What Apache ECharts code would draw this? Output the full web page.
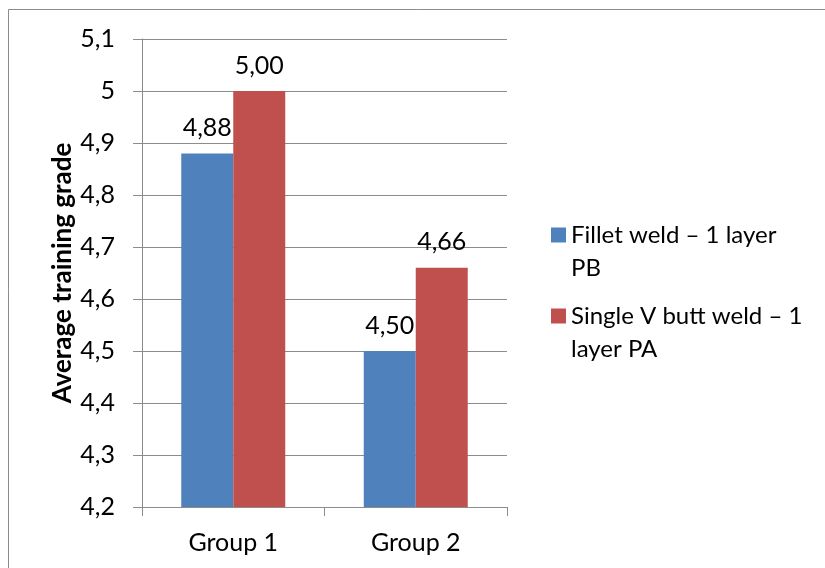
<!DOCTYPE html>
<html>
<head>
<meta charset="utf-8">
<script src="https://cdn.jsdelivr.net/npm/echarts@6/dist/echarts.min.js"></script>
<style>html,body{margin:0;padding:0;background:#fff;}#c{width:825px;height:568px;}</style>
</head>
<body>
<div id="c"></div>
<script>
const categories = ['Group 1', 'Group 2'];
const seriesNames = ['Fillet weld – 1 layer PB', 'Single V butt weld – 1 layer PA'];
const legendLines = {
  'Fillet weld – 1 layer PB': ['Fillet weld – 1 layer', 'PB'],
  'Single V butt weld – 1 layer PA': ['Single V butt weld – 1', 'layer PA']
};
const filletValues = [4.88, 4.50];
const buttValues = [5.00, 4.66];
const yTicks = { min: 4.2, max: 5.1, interval: 0.1 };
const yAxisTitle = 'Average training grade';

const FONT = 'Lato';
const FS = 25;
const chart = echarts.init(document.getElementById('c'));
const fmt = (v, d) => v.toFixed(d).replace('.', ',');

chart.setOption({
  backgroundColor: '#fff',
  animation: false,
  graphic: [{
    type: 'rect', shape: { x: 8.5, y: 9.5, width: 900, height: 900 },
    style: { fill: 'none', stroke: '#8c8c8c', lineWidth: 1 }, silent: true
  }],
  grid: { left: 142, top: 39, width: 365, height: 468, containLabel: false },
  legend: {
    orient: 'vertical', left: 546, top: 185,
    itemWidth: 15, itemHeight: 15, itemGap: -9,
    icon: 'rect',
    formatter: n => '{e| }\n' + legendLines[n].map(s => '{t|' + s + '}').join('\n'),
    textStyle: {
      fontFamily: FONT, fontSize: 24, color: '#000',
      rich: {
        e: { fontFamily: FONT, fontSize: 24, lineHeight: 33 },
        t: { fontFamily: FONT, fontSize: 24, lineHeight: 33, color: '#000' }
      }
    },
    data: seriesNames
  },
  xAxis: {
    type: 'category', data: categories,
    axisLine: { lineStyle: { color: '#8c8c8c' } },
    axisTick: { show: true, length: 9, lineStyle: { color: '#8c8c8c' } },
    axisLabel: { fontFamily: FONT, fontSize: FS, color: '#000', margin: 23 }
  },
  yAxis: {
    type: 'value', min: yTicks.min, max: yTicks.max, interval: yTicks.interval,
    name: yAxisTitle, nameLocation: 'middle', nameGap: 66, nameRotate: 90,
    nameTextStyle: { fontFamily: FONT, fontSize: 26, fontWeight: 'bold', color: '#000' },
    axisLine: { show: true, lineStyle: { color: '#8c8c8c' } },
    axisTick: { show: true, length: 9, lineStyle: { color: '#8c8c8c' } },
    splitLine: { lineStyle: { color: '#8c8c8c' } },
    axisLabel: {
      fontFamily: FONT, fontSize: FS, color: '#000', margin: 27,
      formatter: v => {
        const r = Math.round(v * 10) / 10;
        return Number.isInteger(r) ? String(r) : fmt(r, 1);
      }
    }
  },
  series: [
    {
      name: seriesNames[0], type: 'bar', data: filletValues,
      barWidth: 52, barGap: '0%',
      itemStyle: { color: '#4F81BD' },
      label: { show: true, position: 'top', distance: 13, fontFamily: FONT, fontSize: FS, color: '#000', formatter: p => fmt(p.value, 2) }
    },
    {
      name: seriesNames[1], type: 'bar', data: buttValues,
      barWidth: 52, barGap: '0%',
      itemStyle: { color: '#C0504D' },
      label: { show: true, position: 'top', distance: 13, fontFamily: FONT, fontSize: FS, color: '#000', formatter: p => fmt(p.value, 2) }
    }
  ]
});
</script>
</body>
</html>
